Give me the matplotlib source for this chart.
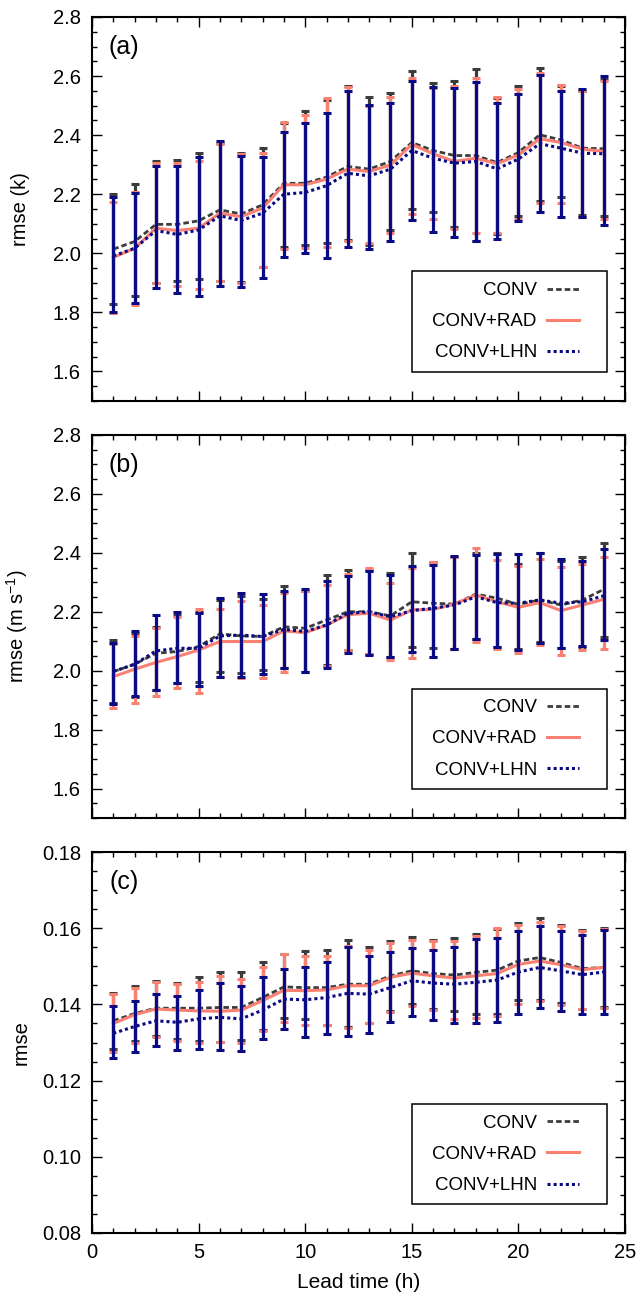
import numpy as np
import matplotlib
matplotlib.use("Agg")
import matplotlib.pyplot as plt
from matplotlib.patches import Rectangle
from matplotlib.ticker import MultipleLocator, FormatStrFormatter

plt.rcParams['font.family'] = ['Liberation Sans', 'DejaVu Sans']
plt.rcParams['mathtext.fontset'] = 'custom'
plt.rcParams['mathtext.rm'] = 'Liberation Sans'
plt.rcParams['mathtext.it'] = 'Liberation Sans:italic'

lead_time = np.arange(1, 25)
series_names = ['CONV', 'CONV+RAD', 'CONV+LHN']
panel_tags = ['(a)', '(b)', '(c)']
y_labels = ['rmse (k)', r'rmse (m s$^{-1}$)', 'rmse']
x_label = 'Lead time (h)'

# ---- (a) temperature ----
conv_a = [2.014, 2.040, 2.098, 2.098, 2.110, 2.147, 2.133, 2.164, 2.237, 2.237, 2.258, 2.294,
          2.285, 2.311, 2.375, 2.348, 2.331, 2.331, 2.307, 2.341, 2.401, 2.384, 2.356, 2.354]
rad_a = [1.986, 2.017, 2.085, 2.077, 2.085, 2.136, 2.124, 2.153, 2.232, 2.232, 2.251, 2.285,
         2.277, 2.299, 2.369, 2.337, 2.311, 2.322, 2.303, 2.333, 2.388, 2.375, 2.353, 2.345]
lhn_a = [1.991, 2.017, 2.077, 2.064, 2.079, 2.127, 2.111, 2.136, 2.200, 2.206, 2.229, 2.271,
         2.262, 2.285, 2.348, 2.322, 2.305, 2.311, 2.286, 2.319, 2.371, 2.356, 2.339, 2.337]
conv_a_hi = [2.200, 2.235, 2.314, 2.316, 2.339, 2.375, 2.341, 2.356, 2.440, 2.482, 2.520, 2.567,
             2.529, 2.542, 2.616, 2.576, 2.582, 2.625, 2.525, 2.567, 2.627, 2.565, 2.550, 2.590]
conv_a_lo = [1.828, 1.855, 1.901, 1.906, 1.912, 1.907, 1.904, 1.955, 2.020, 2.028, 2.036, 2.045,
             2.028, 2.079, 2.149, 2.139, 2.090, 2.043, 2.065, 2.127, 2.177, 2.190, 2.128, 2.127]
rad_a_hi = [2.175, 2.206, 2.307, 2.307, 2.311, 2.369, 2.337, 2.339, 2.443, 2.469, 2.525, 2.563,
            2.499, 2.528, 2.595, 2.559, 2.567, 2.593, 2.529, 2.556, 2.612, 2.571, 2.548, 2.585]
rad_a_lo = [1.799, 1.825, 1.900, 1.889, 1.880, 1.905, 1.900, 1.955, 2.014, 2.017, 2.023, 2.040,
            2.036, 2.068, 2.132, 2.116, 2.081, 2.070, 2.068, 2.115, 2.169, 2.172, 2.124, 2.115]
lhn_a_hi = [2.192, 2.203, 2.294, 2.297, 2.325, 2.379, 2.328, 2.325, 2.412, 2.441, 2.475, 2.551,
            2.503, 2.508, 2.582, 2.563, 2.559, 2.579, 2.508, 2.540, 2.605, 2.551, 2.556, 2.601]
lhn_a_lo = [1.802, 1.831, 1.881, 1.867, 1.855, 1.889, 1.885, 1.918, 1.986, 2.000, 1.983, 2.023,
            2.014, 2.040, 2.113, 2.073, 2.054, 2.043, 2.047, 2.110, 2.139, 2.124, 2.124, 2.096]

# ---- (b) wind ----
conv_b = [1.997, 2.022, 2.059, 2.065, 2.082, 2.125, 2.118, 2.116, 2.149, 2.144, 2.172, 2.200,
          2.200, 2.186, 2.234, 2.229, 2.226, 2.260, 2.246, 2.225, 2.240, 2.223, 2.240, 2.276]
rad_b = [1.980, 2.005, 2.028, 2.048, 2.070, 2.099, 2.099, 2.099, 2.135, 2.129, 2.155, 2.190,
         2.195, 2.172, 2.206, 2.208, 2.226, 2.257, 2.234, 2.215, 2.231, 2.204, 2.223, 2.242]
lhn_b = [1.997, 2.022, 2.067, 2.076, 2.076, 2.118, 2.121, 2.116, 2.140, 2.133, 2.155, 2.195,
         2.200, 2.183, 2.204, 2.212, 2.223, 2.251, 2.231, 2.229, 2.240, 2.229, 2.234, 2.254]
conv_b_hi = [2.104, 2.128, 2.150, 2.190, 2.200, 2.240, 2.255, 2.242, 2.288, 2.270, 2.325, 2.342,
             2.342, 2.333, 2.399, 2.370, 2.385, 2.400, 2.399, 2.362, 2.401, 2.372, 2.387, 2.433]
conv_b_lo = [1.891, 1.912, 1.934, 1.957, 1.963, 1.997, 1.991, 2.002, 2.008, 1.997, 2.019, 2.070,
             2.058, 2.048, 2.082, 2.078, 2.075, 2.106, 2.082, 2.072, 2.098, 2.078, 2.082, 2.113]
rad_b_hi = [2.090, 2.118, 2.144, 2.181, 2.210, 2.210, 2.237, 2.223, 2.265, 2.272, 2.291, 2.328,
            2.348, 2.299, 2.350, 2.370, 2.385, 2.416, 2.376, 2.355, 2.378, 2.353, 2.362, 2.385]
rad_b_lo = [1.872, 1.889, 1.914, 1.942, 1.925, 1.977, 1.974, 1.974, 1.997, 1.997, 2.016, 2.070,
            2.058, 2.036, 2.044, 2.045, 2.072, 2.099, 2.075, 2.059, 2.087, 2.053, 2.070, 2.072]
lhn_b_hi = [2.093, 2.135, 2.189, 2.200, 2.195, 2.246, 2.263, 2.259, 2.272, 2.276, 2.305, 2.322,
            2.340, 2.325, 2.356, 2.359, 2.390, 2.393, 2.396, 2.396, 2.401, 2.378, 2.374, 2.412]
lhn_b_lo = [1.887, 1.914, 1.934, 1.957, 1.949, 1.980, 1.980, 1.988, 2.008, 1.997, 2.008, 2.059,
            2.053, 2.048, 2.065, 2.045, 2.072, 2.106, 2.079, 2.070, 2.095, 2.076, 2.084, 2.104]

# ---- (c) humidity ----
conv_c = [0.1357, 0.1376, 0.1390, 0.1390, 0.1390, 0.1392, 0.1392, 0.1418, 0.1446, 0.1444, 0.1444, 0.1453,
          0.1453, 0.1475, 0.1488, 0.1481, 0.1477, 0.1484, 0.1490, 0.1514, 0.1523, 0.1510, 0.1494, 0.1497]
rad_c = [0.1350, 0.1373, 0.1388, 0.1385, 0.1383, 0.1382, 0.1385, 0.1410, 0.1437, 0.1436, 0.1438, 0.1449,
         0.1449, 0.1471, 0.1482, 0.1475, 0.1469, 0.1475, 0.1481, 0.1505, 0.1514, 0.1504, 0.1491, 0.1497]
lhn_c = [0.1324, 0.1342, 0.1357, 0.1353, 0.1362, 0.1366, 0.1362, 0.1385, 0.1414, 0.1412, 0.1418, 0.1429,
         0.1427, 0.1444, 0.1462, 0.1456, 0.1453, 0.1458, 0.1464, 0.1485, 0.1497, 0.1488, 0.1478, 0.1485]
conv_c_hi = [0.1430, 0.1447, 0.1462, 0.1455, 0.1471, 0.1484, 0.1484, 0.1512, 0.1532, 0.1540, 0.1542, 0.1568,
             0.1551, 0.1566, 0.1577, 0.1568, 0.1573, 0.1586, 0.1598, 0.1614, 0.1626, 0.1608, 0.1594, 0.1601]
conv_c_lo = [0.1283, 0.1305, 0.1318, 0.1309, 0.1305, 0.1301, 0.1307, 0.1333, 0.1364, 0.1362, 0.1347, 0.1340,
             0.1352, 0.1383, 0.1400, 0.1388, 0.1382, 0.1375, 0.1376, 0.1411, 0.1412, 0.1403, 0.1388, 0.1392]
rad_c_hi = [0.1427, 0.1444, 0.1458, 0.1453, 0.1459, 0.1475, 0.1466, 0.1498, 0.1532, 0.1527, 0.1527, 0.1553,
            0.1542, 0.1562, 0.1570, 0.1566, 0.1566, 0.1580, 0.1600, 0.1608, 0.1617, 0.1606, 0.1592, 0.1599]
rad_c_lo = [0.1275, 0.1300, 0.1315, 0.1305, 0.1300, 0.1301, 0.1300, 0.1330, 0.1353, 0.1346, 0.1345, 0.1338,
            0.1350, 0.1381, 0.1397, 0.1385, 0.1362, 0.1365, 0.1370, 0.1401, 0.1408, 0.1399, 0.1388, 0.1390]
lhn_c_hi = [0.1395, 0.1408, 0.1427, 0.1423, 0.1438, 0.1455, 0.1447, 0.1473, 0.1494, 0.1497, 0.1512, 0.1551,
            0.1527, 0.1538, 0.1547, 0.1542, 0.1551, 0.1571, 0.1575, 0.1593, 0.1606, 0.1593, 0.1581, 0.1594]
lhn_c_lo = [0.1260, 0.1276, 0.1292, 0.1281, 0.1283, 0.1281, 0.1279, 0.1308, 0.1336, 0.1314, 0.1322, 0.1318,
            0.1325, 0.1355, 0.1370, 0.1359, 0.1350, 0.1350, 0.1355, 0.1375, 0.1390, 0.1382, 0.1375, 0.1375]

panels = [
    [(conv_a, conv_a_lo, conv_a_hi), (rad_a, rad_a_lo, rad_a_hi), (lhn_a, lhn_a_lo, lhn_a_hi)],
    [(conv_b, conv_b_lo, conv_b_hi), (rad_b, rad_b_lo, rad_b_hi), (lhn_b, lhn_b_lo, lhn_b_hi)],
    [(conv_c, conv_c_lo, conv_c_hi), (rad_c, rad_c_lo, rad_c_hi), (lhn_c, lhn_c_lo, lhn_c_hi)],
]
y_limits = [(1.5, 2.8), (1.5, 2.8), (0.08, 0.18)]
y_major = [0.2, 0.2, 0.02]
y_minor = [0.05, 0.05, 0.005]
y_fmt = ['%.1f', '%.1f', '%.2f']

colors = ['#3C3C3C', '#FA8072', '#0A0A85']
styles = [dict(ls=(0, (2.0, 1.1)), lw=2.0),
          dict(ls='-', lw=2.2),
          dict(ls=(0, (1.0, 1.0)), lw=2.2)]

W, H = 639, 1295
fig = plt.figure(figsize=(W / 100, H / 100), dpi=100)
ax_left, ax_right = 92, 625
ax_tb = [(17, 401), (435, 818), (852, 1233)]

# legend frame (axes fraction) and the anchor of the legend rows
box_x0, box_x1 = 0.600, 0.966
box_y0, box_y1 = 0.075, 0.338
rows_anchor = (0.9137, 0.5 * (box_y0 + box_y1))

for i, (top, bot) in enumerate(ax_tb):
    ax = fig.add_axes([ax_left / W, 1 - bot / H, (ax_right - ax_left) / W, (bot - top) / H])
    handles = []
    for j, (mean, lo, hi) in enumerate(panels[i]):
        mean = np.asarray(mean)
        lo = np.asarray(lo)
        hi = np.asarray(hi)
        z = 2 + j
        ax.errorbar(lead_time, mean, yerr=[mean - lo, hi - mean], fmt='none',
                    ecolor=colors[j], elinewidth=2.3, capsize=3, capthick=2.2, zorder=z)
        line, = ax.plot(lead_time, mean, color=colors[j], zorder=z + 0.5,
                        label=series_names[j], **styles[j])
        handles.append(line)

    ax.set_xlim(0, 25)
    ax.set_ylim(*y_limits[i])
    ax.xaxis.set_major_locator(MultipleLocator(5))
    ax.xaxis.set_minor_locator(MultipleLocator(1))
    ax.yaxis.set_major_locator(MultipleLocator(y_major[i]))
    ax.yaxis.set_minor_locator(MultipleLocator(y_minor[i]))
    ax.yaxis.set_major_formatter(FormatStrFormatter(y_fmt[i]))
    ax.tick_params(which='both', direction='in', top=True, right=True, labelsize=14.5, width=1)
    ax.tick_params(which='major', length=7)
    ax.tick_params(axis='y', which='major', pad=8)
    ax.tick_params(axis='x', which='major', pad=7)
    ax.tick_params(which='minor', length=3.5)
    for s in ax.spines.values():
        s.set_linewidth(1.5)
    if i < 2:
        ax.tick_params(labelbottom=False)
    else:
        ax.set_xlabel(x_label, fontsize=15, labelpad=8)

    ax.set_ylabel(y_labels[i], fontsize=14.5)
    ax.yaxis.set_label_coords(-0.116, 0.5)
    ax.text(0.06, 0.922, panel_tags[i], transform=ax.transAxes, fontsize=18,
            ha='center', va='center')

    ax.add_patch(Rectangle((box_x0, box_y0), box_x1 - box_x0, box_y1 - box_y0,
                           transform=ax.transAxes, fill=True, facecolor='white',
                           edgecolor='black', linewidth=1.1, zorder=9))
    leg = ax.legend(handles=handles, loc='center right', bbox_to_anchor=rows_anchor,
                    borderaxespad=0, borderpad=0, markerfirst=False, fontsize=13.5,
                    handlelength=1.7, handletextpad=0.55, labelspacing=0.75,
                    frameon=False)
    leg.set_zorder(10)

fig.savefig('out.png', dpi=100)
